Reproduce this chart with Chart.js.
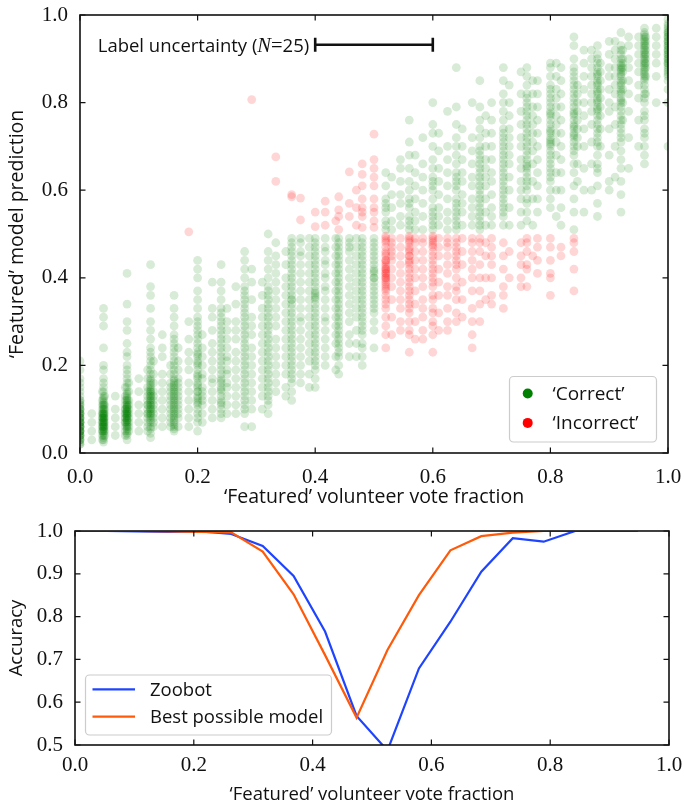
<!DOCTYPE html>
<html>
<head>
<meta charset="utf-8">
<script src="https://cdn.jsdelivr.net/npm/chart.js@4.4.1/dist/chart.umd.min.js"></script>
<style>
  html, body { margin:0; padding:0; background:#fff; }
  #wrap { position:relative; width:684px; height:807px; overflow:hidden; }
  canvas { position:absolute; left:0; }
</style>
</head>
<body>
<div id="wrap">
  <canvas id="scatter" width="684" height="510" style="top:0"></canvas>
  <canvas id="acc" width="684" height="297" style="top:510px"></canvas>
</div>
<script>
// volunteer vote fraction columns (k/25) and model predictions in each column (percent)
const voteFraction = [0, 0.04, 0.08, 0.12, 0.16, 0.20, 0.24, 0.28, 0.32, 0.36, 0.40, 0.44, 0.48,
  0.52, 0.56, 0.60, 0.64, 0.68, 0.72, 0.76, 0.80, 0.84, 0.88, 0.92, 0.96, 1.00];
const prediction = [
  [2,2,2.5,3,3,3,3.5,4,4,4,4,4.5,5,5,5,5,5,5.5,6,6,6,6,6,6.5,7,7,7,7,7,7.5,8,8,8,8,8.5,9,9,9,9,9.5,10,10,10,10.5,11,11,11.5,12,12,13,14,15,16,17,19,21],
  [2.5,3,3.5,4,4.5,5,5,5.5,5.5,6,6,6,6.5,6.5,7,7,7,7.5,7.5,8,8,8,8.5,8.5,9,9,9,9.5,10,10,10.5,11,11,11.5,12,12.5,13,14,15,16,17,19,20,24,29,31,33],
  [3,4,4.5,5,5.5,6,6,6.5,7,7,7.5,7.5,8,8,8.5,8.5,9,9,9,9.5,9.5,10,10,10.5,10.5,11,11,11.5,12,12,12.5,13,13.5,14,15,16,17,18,19,20,22,23,25,28,30,34,41],
  [3.5,4.5,5.5,6,7,7.5,8,8.5,9,9,9.5,10,10,10.5,11,11,11.5,12,12,12.5,13,13,13.5,14,14,14.5,15,15.5,16,16.5,17,18,19,20,21,22,23,24,26,28,30,33,36,38,43],
  [5,5.5,6,6.5,7,7.5,8,8.5,9,9.5,10,10.5,11,11.5,12,12.5,13,13.5,14,14.5,15,15.5,16,16.5,17,18,19,20,21,22,23,24,25,26,27,29,31,33,36],
  [5,7,8,9,10,11,11.5,12,12.5,13,14,14,15,15.5,16,17,17.5,18,19,20,20.5,21,22,22.5,23,24,25,26,27,28,29,30,31,33,35,37,40,42,44],
  [8,9,10,11,11.5,12,13,14,14.5,15,16,16.5,17,18,19,20,21,22,23,24,25,26,27,28,29,30,31,32,33,35,37,39,43],
  [6,9,10,11,12,13,14,15,16,17,18,19,20,21,22,23,24,25,26,27,28,29,30,31,32,33,34,35,36,37,38,40,42,44,46],
  [9,11,12,13,14,15,16,17,18,19,20,21,22,23,24,25,26,27,28,29,30,31,32,33,34,35,36,37,38,40,42,44,46,50],
  [12,14,16,17,18,19,20,21,22,23,24,25,26,27,28,29,30,31,32,33,34,35,35,36,37,38,39,40,41,42,43,44,45,46,47,48,49,58.5,59],
  [15,17,19,20,21,22,23,24,25,26,27,28,29,30,31,32,33,34,35,35.5,36,36.5,37,38,39,40,41,42,43,44,45,46,47,48,49,51.7,55],
  [18,20,22,23,24,25,26,27,28,29,30,31,32,33,34,35,36,37,38,39,40,41,42,43,44,45,46,47,48,49,51,54,55.5,58.5],
  [20,22,24,25,27,28,29,30,31,32,33,34,35,36,37,38,39,40,41,42,43,44,45,46,47,48,49,51.5,54,55,56,58,61,63.6,66],
  [24,27,29,31,33,34,35,36,37,37.5,38,38.5,39,39.5,40,40,40.5,41,41,41.5,42,42,42.5,43,43.5,44,44,45,45.5,46,47,48,48.5,49,49.5,51,52,53,55,56,57,58,61,64],
  [23,27,28,30,32,33,34,35,36,37,38,39,40,41,42,43,43.5,44,45,45,46,46.5,47,48,48.5,49,49.5,51,52,53,54,56,57,58,60,62,65,68,71,76],
  [23,27,29,30,32,33,35,36,38,39,40,41,42,43,44,45,46,47,47.5,48,48.5,49,49.5,51,52,53,54,55,56,58,60,61,62,63,65,67,70,73,75,80],
  [30,32,35,37,38,40,42,43,44,45,46,47,48,49,51,52,53,54,55,56,57,58,60,61,62,63,64,66,68,70,72,75,79,88],
  [30,34,37,40,43,46,48,49,51,52,53,54,55,56,57,58,59,60,61,62,63,64,65,66,67,68,69,70,72,74,76,79,85],
  [33,36,38,42,45,48,52,54,55,56,57,58,59,60,61,62,63,64,65,66,67,68,69,70,71,72,73,74,76,78,80,82,85,88],
  [38,42,43,46,48,49,53,55,57,58,60,61,62,63,64,65,65.5,66,67,68,69,70,71,72,73,74,75,76,77,78,79,80,81,82,84,86,88],
  [36,40,41,44,47,49,56,58,60,62,63,64,65,66,67,68,69,70,70.5,71,71.5,72,73,73.5,74,75,76,77,77.5,78,79,80,81,82,83,84,86,88,89],
  [37,42,46,48,49,51,55,58,61,64,66,68,69,70,71,72,72.5,73,74,74.5,75,76,77,77.5,78,79,80,81,82,83,84,85,86,87,88,90,93,95],
  [54,57,61,64,65,66,68,70,71,72,73,74,75,76,77,78,78.5,79,80,80.5,81,82,82.5,83,84,84.5,85,86,86.5,87,88,89,90,91,93],
  [55,59,62,65,67,69,71,72,73,74,75,76,77,78,79,80,80.5,81,82,82.5,83,84,84.5,85,86,86.5,87,87.5,88,88.5,89,90,91,92,93,96],
  [66,68,70,72,73,74,76,77,78,80,81,82,83,84,85,85.5,86,86.5,87,87.5,88,88.5,89,89.5,90,90.5,91,91.5,92,92.5,93,93.5,94,94.5,95,95.5,96,97],
  [70,80,83,85,86,86.5,87,87.5,88,88.5,89,89,89.5,90,90,90.5,91,91,91.5,92,92,92.5,93,93,93.5,94,94,94.5,95,95,95.5,96,96,96.5,97,97.5,98,99]
];
// galaxies with other vote counts, sitting beside or between the main columns
const otherFraction = [0.02, 0.038, 0.042, 0.06, 0.077, 0.083, 0.10, 0.115, 0.125, 0.14, 0.154, 0.167,
  0.185, 0.208, 0.225, 0.25, 0.265, 0.292, 0.31, 0.333, 0.35, 0.375, 0.39, 0.417, 0.435, 0.458,
  0.47, 0.50, 0.53, 0.545, 0.57, 0.583, 0.61, 0.625, 0.65, 0.667, 0.69, 0.70, 0.73, 0.75, 0.77,
  0.778, 0.81, 0.818, 0.846, 0.857, 0.87, 0.885, 0.90, 0.91, 0.923, 0.933, 0.95, 0.962, 0.98];
const otherPrediction = [
  [3,5,7,9],
  [3,4,5,5,6,6,7,7,8,8,9,9,10,11,12,14],
  [4,5,6,7,8,9,10,11,13],
  [4,6,8,10,13],
  [4,5,6,7,7,8,8,9,9,10,10,11,12,13,15],
  [5,6,7,8,9,10,11,12,14,16],
  [5,7,9,11,14,17],
  [5,6,7,8,9,9,10,11,11,12,13,14,15,17,19],
  [6,7,8,9,10,11,12,13,14,16,18,21],
  [6,8,10,12,14,16,18,22,24,27],
  [6,7,8,9,10,11,12,13,14,15,16,18,20],
  [6,8,9,10,11,12,13,14,15,16,17,19,21,24],
  [6,8,10,12,14,16,19,21,23,26,30,50.5],
  [7,9,11,12,13,14,15,17,18,20,22,24,27],
  [8,10,12,14,16,17,19,21,23,25,28,31,33,39],
  [9,11,13,15,16,18,19,21,22,24,26,28,30,33],
  [9,11,13,15,17,19,21,23,26,28,30,34,38],
  [6,10,12,14,16,18,20,22,24,27,29,31,35,39,42,80.7],
  [10,13,15,17,19,21,23,25,27,29,31,33,36,39],
  [14,16,18,20,22,24,26,29,31,33,35,37,39,41,43,45,48,62,67.6],
  [13,15,18,20,22,24,26,28,30,32,34,36,38,40,43,46],
  [16,18,20,22,24,26,28,30,31,33,35,37,39,41,43,45,46,48,49,53.2,58.2],
  [15,18,21,23,25,27,29,31,33,35,37,39,41,43,45,47,49],
  [20,22,24,26,28,30,31,33,35,37,38,40,41,43,44,46,47,49,52,55,57.5],
  [19,22,25,27,29,31,33,35,37,39,41,43,45,47,49,53],
  [22,25,27,30,32,34,36,38,40,42,44,46,47,48,49,54,57,64.2],
  [22,25,28,31,33,35,37,39,41,43,45,47,49,52,56,60],
  [24,28,30,32,33,34,35,36,37,38,39,40,40,41,41.5,42,43,44,45,46,47,48,49,51.5,53,55,56,58,61,63,65,67,72.8],
  [27,31,35,38,40,42,44,45,46,47,48,49,51,53,56,59,63],
  [28,30,33,35,37,39,41,43,45,47,49,52,54,57,59,62,65,67],
  [26,30,34,37,40,42,44,46,48,49,51,53,55,58,61,64,68],
  [26,28,31,33,35,38,40,42,44,46,48,49,51,54,57,60,63,66,72],
  [28,32,36,39,42,45,47,49,52,54,56,59,62,65,69,73],
  [28,30,33,36,38,41,43,45,47,48,49,51,53,55,58,61,64,67,70,78],
  [31,35,39,43,46,49,52,55,57,59,62,64,67,70,74],
  [24,27,30,33,37,40,42,44,46,48,49,52,54,56,58,61,63,66,69,72,80],
  [35,40,45,48,52,55,58,61,63,65,67,70,73,77],
  [34,36,40,43,45,47,49,52,54,56,59,62,64,67,70,73,76,80],
  [40,46,52,56,60,63,66,68,70,72,74,77,80,84],
  [38,40,43,45,48,52,55,58,60,62,65,67,70,72,75,78,82,87],
  [45,52,58,62,66,69,71,73,75,77,79,82,85],
  [41,44,47,49,55,58,61,64,67,70,73,76,79,82,85],
  [54,60,64,68,71,73,75,77,79,81,83,86,89],
  [45,47,52,56,60,64,67,70,73,76,79,82,85,88],
  [62,66,70,72,74,76,78,80,82,84],
  [55,60,65,70,74,77,80,83,86,89,92],
  [60,66,71,75,78,80,82,84,86,88,90,92],
  [70,74,77,79,81,83,85,87,89],
  [60,62,68,74,78,80,83,86,88,91,94],
  [63,70,75,79,82,84,86,88,90,92,94],
  [76,80,83,85,87,88,89,90,92],
  [65,72,78,82,85,88,90,93,95],
  [70,76,81,84,87,89,91,93,95],
  [82,86,88,89,90,91,92,93,94,95],
  [80,86,89,91,93,95,97]
];

// accuracy vs vote fraction
const binFraction = [0, 0.053, 0.105, 0.158, 0.211, 0.263, 0.316, 0.368, 0.421, 0.474,
  0.526, 0.579, 0.632, 0.684, 0.737, 0.789, 0.842, 0.895, 0.947];
const zoobotAcc = [1.0, 1.0, 0.999, 0.998, 0.999, 0.993, 0.965, 0.895, 0.765, 0.568,
  0.487, 0.679, 0.788, 0.905, 0.983, 0.975, 1.0, 1.0, 1.0];
const bestAcc = [1.0, 1.0, 1.0, 0.999, 0.998, 0.997, 0.952, 0.852, 0.71, 0.564,
  0.722, 0.85, 0.955, 0.988, 0.996, 1.0, 1.0, 1.0, 1.0];

const uncertaintySpan = [0.4, 0.6];
const uncertaintyLevel = 0.932;

const SANS = '"Open Sans", "DejaVu Sans", sans-serif';
const SERIF = '"Liberation Serif", "DejaVu Serif", serif';
const INK = '#111';

const correct = [], incorrect = [];
function addColumn(x, ys){
  ys.forEach(p => {
    const y = p / 100;
    ((x > 0.5) === (y > 0.5) ? correct : incorrect).push({x, y});
  });
}
voteFraction.forEach((x, i) => addColumn(x, prediction[i]));
otherFraction.forEach((x, i) => addColumn(x, otherPrediction[i]));

// matplotlib-like box with inward ticks on all sides
const framePlugin = {
  id: 'frame',
  afterDatasetsDraw(chart){
    const {ctx, chartArea: a, scales: {x, y}} = chart;
    ctx.save();
    ctx.strokeStyle = INK;
    ctx.lineWidth = 1.2;
    ctx.beginPath();
    x.ticks.forEach(t => {
      const p = x.getPixelForValue(t.value);
      ctx.moveTo(p, a.bottom); ctx.lineTo(p, a.bottom - 5.5);
      ctx.moveTo(p, a.top); ctx.lineTo(p, a.top + 5.5);
    });
    y.ticks.forEach(t => {
      const p = y.getPixelForValue(t.value);
      ctx.moveTo(a.left, p); ctx.lineTo(a.left + 5.5, p);
      ctx.moveTo(a.right, p); ctx.lineTo(a.right - 5.5, p);
    });
    ctx.stroke();
    ctx.lineWidth = 1.6;
    ctx.strokeRect(a.left, a.top, a.right - a.left, a.bottom - a.top);
    ctx.restore();
  }
};

function legendBox(ctx, x, y, w, h){
  const r = 4;
  ctx.beginPath();
  ctx.moveTo(x + r, y);
  ctx.arcTo(x + w, y, x + w, y + h, r);
  ctx.arcTo(x + w, y + h, x, y + h, r);
  ctx.arcTo(x, y + h, x, y, r);
  ctx.arcTo(x, y, x + w, y, r);
  ctx.closePath();
  ctx.fillStyle = 'rgba(255,255,255,0.8)';
  ctx.fill();
  ctx.strokeStyle = '#cccccc';
  ctx.lineWidth = 1.2;
  ctx.stroke();
}

const scatterExtras = {
  id: 'scatterExtras',
  afterDraw(chart){
    const {ctx, chartArea: a, scales: {x, y}} = chart;
    ctx.save();
    // label uncertainty bar
    const x1 = x.getPixelForValue(uncertaintySpan[0]);
    const x2 = x.getPixelForValue(uncertaintySpan[1]);
    const py = y.getPixelForValue(uncertaintyLevel);
    ctx.strokeStyle = INK;
    ctx.lineWidth = 2.6;
    ctx.beginPath();
    ctx.moveTo(x1, py); ctx.lineTo(x2, py);
    ctx.moveTo(x1, py - 7); ctx.lineTo(x1, py + 7);
    ctx.moveTo(x2, py - 7); ctx.lineTo(x2, py + 7);
    ctx.stroke();
    const parts = [
      ['Label uncertainty (', '18.5px ' + SANS],
      ['N', 'italic 20.5px ' + SERIF],
      ['=', '20.5px ' + SERIF],
      ['25)', '18.5px ' + SANS]
    ];
    let tx = x1 - 6;
    ctx.fillStyle = INK;
    ctx.textBaseline = 'alphabetic';
    ctx.textAlign = 'left';
    const widths = parts.map(([s, f]) => { ctx.font = f; return ctx.measureText(s).width; });
    tx -= widths.reduce((s, w) => s + w, 0);
    parts.forEach(([s, f], i) => { ctx.font = f; ctx.fillText(s, tx, py + 7); tx += widths[i]; });

    // legend
    const bx = a.right - 158.5, by = a.bottom - 76.5;
    legendBox(ctx, bx, by, 147, 65.5);
    const items = [['‘Correct’', 'green'], ['‘Incorrect’', 'red']];
    ctx.font = '19px ' + SANS;
    ctx.textBaseline = 'middle';
    items.forEach(([label, col], i) => {
      const cy = by + 17 + i * 29.4;
      ctx.fillStyle = col;
      ctx.beginPath(); ctx.arc(bx + 18.2, cy, 5, 0, Math.PI * 2); ctx.fill();
      ctx.fillStyle = INK;
      ctx.fillText(label, bx + 43, cy + 1);
    });
    ctx.restore();
  }
};

const accLegend = {
  id: 'accLegend',
  afterDraw(chart){
    const {ctx, chartArea: a} = chart;
    ctx.save();
    const bx = a.left + 10.5, by = a.bottom - 70;
    legendBox(ctx, bx, by, 246, 60);
    ctx.font = '18.5px ' + SANS;
    ctx.textBaseline = 'middle';
    chart.data.datasets.forEach((ds, i) => {
      const cy = by + 14.3 + i * 27.4;
      ctx.strokeStyle = ds.borderColor;
      ctx.lineWidth = 2.2;
      ctx.beginPath(); ctx.moveTo(bx + 7, cy); ctx.lineTo(bx + 49.5, cy); ctx.stroke();
      ctx.fillStyle = INK;
      ctx.fillText(ds.label, bx + 64.5, cy + 1);
    });
    ctx.restore();
  }
};

const tickFont = {family: SERIF, size: 21};
// tick marks are drawn by framePlugin; the hidden grid tick length only offsets the labels
const hiddenGrid = len => ({display: false, drawTicks: true, tickLength: len});

new Chart(document.getElementById('scatter'), {
  type: 'scatter',
  data: {
    datasets: [
      {label: '‘Incorrect’', data: incorrect, pointRadius: 4.4, pointBorderWidth: 0,
       pointBackgroundColor: 'rgba(255,0,0,0.16)', clip: 0},
      {label: '‘Correct’', data: correct, pointRadius: 4.4, pointBorderWidth: 0,
       pointBackgroundColor: 'rgba(0,128,0,0.155)', clip: 0}
    ]
  },
  options: {
    responsive: false, animation: false, events: [],
    layout: {autoPadding: false, padding: {top: 15, right: 16, left: 0, bottom: 0}},
    plugins: {legend: {display: false}, tooltip: {enabled: false}},
    scales: {
      x: {type: 'linear', min: 0, max: 1,
          grid: hiddenGrid(12), border: {display: false},
          ticks: {stepSize: 0.2, font: tickFont, color: INK, padding: 0, maxRotation: 0,
                  callback: v => v.toFixed(1)},
          title: {display: true, text: '‘Featured’ volunteer vote fraction',
                  font: {family: SANS, size: 19.5}, color: INK, padding: {top: 0, bottom: 1}},
          afterFit: s => { s.height = 57; }},
      y: {min: 0, max: 1,
          grid: hiddenGrid(12), border: {display: false},
          ticks: {stepSize: 0.2, font: tickFont, color: INK, padding: 0,
                  callback: v => v.toFixed(1)},
          title: {display: true, text: '‘Featured’ model prediction',
                  font: {family: SANS, size: 19.5}, color: INK, padding: {top: 6, bottom: 0}},
          afterFit: s => { s.width = 80; }}
    }
  },
  plugins: [framePlugin, scatterExtras]
});

new Chart(document.getElementById('acc'), {
  type: 'line',
  data: {
    datasets: [
      {label: 'Zoobot', data: binFraction.map((x, i) => ({x, y: zoobotAcc[i]})),
       borderColor: '#1f44ff', borderWidth: 2.2, pointRadius: 0, order: 1, tension: 0},
      {label: 'Best possible model', data: binFraction.map((x, i) => ({x, y: bestAcc[i]})),
       borderColor: '#ff5a0a', borderWidth: 2.2, pointRadius: 0, order: 0, tension: 0}
    ]
  },
  options: {
    responsive: false, animation: false, events: [],
    layout: {autoPadding: false, padding: {top: 21, right: 15, left: 0, bottom: 0}},
    plugins: {legend: {display: false}, tooltip: {enabled: false}},
    scales: {
      x: {type: 'linear', min: 0, max: 1,
          grid: hiddenGrid(8), border: {display: false},
          ticks: {stepSize: 0.2, font: tickFont, color: INK, padding: 0, maxRotation: 0,
                  callback: v => v.toFixed(1)},
          title: {display: true, text: '‘Featured’ volunteer vote fraction',
                  font: {family: SANS, size: 18.5}, color: INK, padding: {top: 0, bottom: 1}},
          afterFit: s => { s.height = 62; }},
      y: {min: 0.5, max: 1,
          grid: hiddenGrid(12), border: {display: false},
          ticks: {stepSize: 0.1, font: tickFont, color: INK, padding: 0,
                  callback: v => v.toFixed(1)},
          title: {display: true, text: 'Accuracy',
                  font: {family: SANS, size: 18.5}, color: INK, padding: {top: 6, bottom: 0}},
          afterFit: s => { s.width = 75; }}
    }
  },
  plugins: [framePlugin, accLegend]
});
</script>
</body>
</html>
